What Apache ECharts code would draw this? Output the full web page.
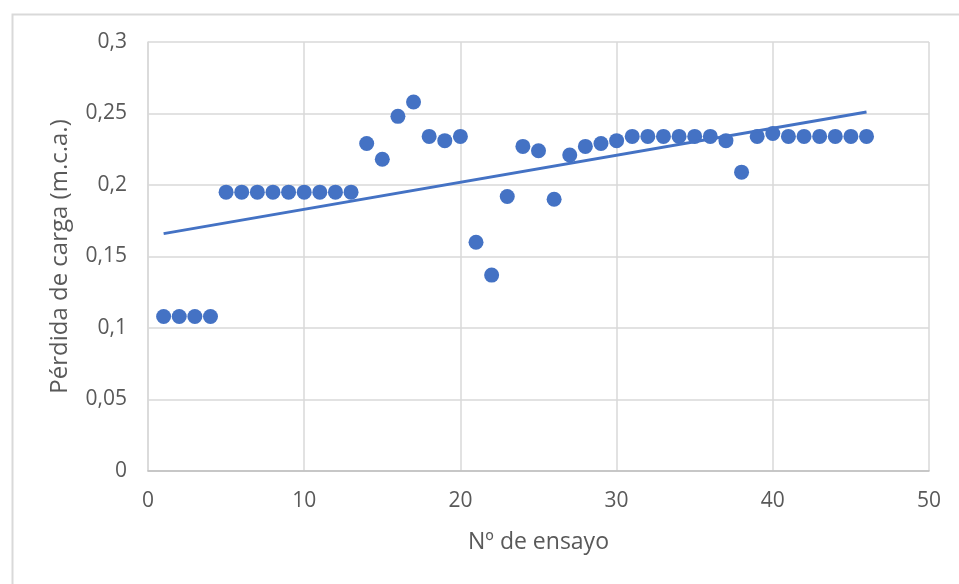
<!DOCTYPE html>
<html>
<head>
<meta charset="utf-8">
<script src="https://cdn.jsdelivr.net/npm/echarts@6/dist/echarts.min.js"></script>
<style>html,body{margin:0;padding:0;background:#fff;}#c{width:959px;height:584px;}</style>
</head>
<body>
<div id="c"></div>
<script>
// Data
const ensayo = [1,2,3,4,5,6,7,8,9,10,11,12,13,14,15,16,17,18,19,20,21,22,23,24,25,26,27,28,29,30,31,32,33,34,35,36,37,38,39,40,41,42,43,44,45,46];
const perdida = [0.108,0.108,0.108,0.108,0.195,0.195,0.195,0.195,0.195,0.195,0.195,0.195,0.195,0.229,0.218,0.248,0.258,0.234,0.231,0.234,0.160,0.137,0.192,0.227,0.224,0.190,0.221,0.227,0.229,0.231,0.234,0.234,0.234,0.234,0.234,0.234,0.231,0.209,0.234,0.236,0.234,0.234,0.234,0.234,0.234,0.234];
const trendX = [1, 46];
const trendY = [0.166, 0.251];
const xTitle = 'Nº de ensayo';
const yTitle = 'Pérdida de carga (m.c.a.)';

const points = ensayo.map((x, i) => [x, perdida[i]]);
const trend = trendX.map((x, i) => [x, trendY[i]]);

const chart = echarts.init(document.getElementById('c'), null, {renderer: 'canvas'});
const tickFont = {color: '#595959', fontFamily: 'Open Sans', fontSize: 21};
const fmt = v => String(v).replace('.', ',');
chart.setOption({
  animation: false,
  backgroundColor: '#fff',
  graphic: [{
    type: 'rect', left: 10, top: 12, z: -10,
    shape: {width: 960, height: 580},
    style: {fill: 'none', stroke: '#d9d9d9', lineWidth: 2}
  }],
  grid: {left: 148, right: 30, top: 42, bottom: 113, containLabel: false},
  xAxis: {
    type: 'value', min: 0, max: 50, interval: 10,
    name: xTitle, nameLocation: 'middle', nameGap: 60,
    nameTextStyle: {color: '#595959', fontFamily: 'Open Sans', fontSize: 23},
    axisLine: {show: true, lineStyle: {color: '#bfbfbf', width: 1.5}},
    axisTick: {show: false},
    axisLabel: Object.assign({margin: 20, formatter: fmt}, tickFont),
    splitLine: {show: true, lineStyle: {color: '#d9d9d9', width: 1.5}}
  },
  yAxis: {
    type: 'value', min: 0, max: 0.3, interval: 0.05,
    name: yTitle, nameLocation: 'middle', nameGap: 76,
    nameTextStyle: {color: '#595959', fontFamily: 'Open Sans', fontSize: 24},
    axisLine: {show: true, lineStyle: {color: '#d9d9d9', width: 1.5}},
    axisTick: {show: false},
    axisLabel: Object.assign({margin: 21, formatter: v => fmt(+v.toFixed(2))}, tickFont),
    splitLine: {show: true, lineStyle: {color: '#d9d9d9', width: 1.5}}
  },
  series: [
    {
      type: 'scatter', data: points, symbolSize: 15,
      itemStyle: {color: '#4472C4', opacity: 1}, z: 3
    },
    {
      type: 'line', data: trend, symbol: 'none',
      lineStyle: {color: '#4472C4', width: 3}, z: 4
    }
  ]
});
</script>
</body>
</html>
